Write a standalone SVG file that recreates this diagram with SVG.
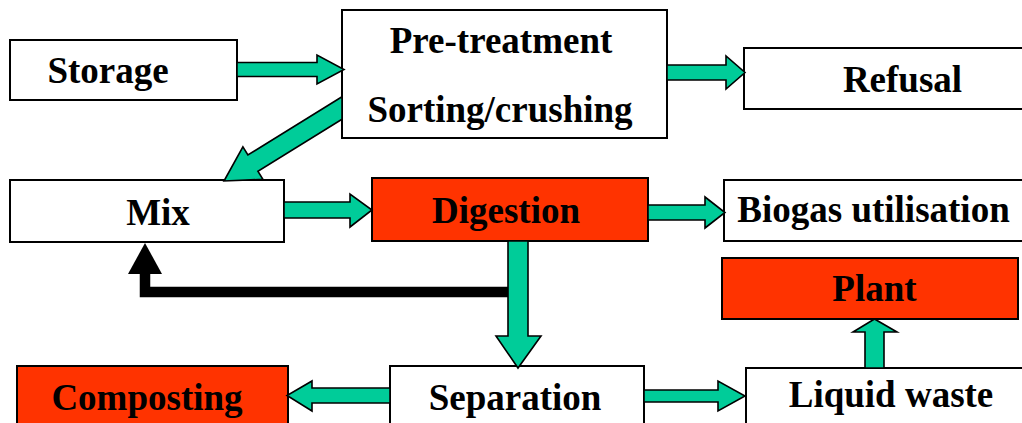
<svg xmlns="http://www.w3.org/2000/svg" width="1022" height="423" viewBox="0 0 1022 423">
<style>
.box{fill:#ffffff;stroke:#000;stroke-width:2}
.red{fill:#ff3300;stroke:#000;stroke-width:2}
.lbl{font-family:"Liberation Serif","Times New Roman",serif;font-weight:bold;font-size:37px;fill:#000;text-anchor:middle}
.arr{fill:#00cc99;stroke:#000;stroke-width:1.6;stroke-linejoin:miter}
</style>
<rect width="1022" height="423" fill="#ffffff"/>
<g id="storage"><rect class="box" x="10" y="40" width="227" height="60"/><text class="lbl" x="108" y="83">Storage</text></g>
<g id="pretreatment"><rect class="box" x="342" y="10" width="325" height="128"/><text class="lbl" x="501" y="53">Pre-treatment</text><text class="lbl" x="500" y="122">Sorting/crushing</text></g>
<g id="refusal"><rect class="box" x="744" y="48" width="300" height="61"/><text class="lbl" x="902.5" y="92">Refusal</text></g>
<g id="mix"><rect class="box" x="10" y="180" width="274" height="62"/><text class="lbl" x="158" y="225">Mix</text></g>
<g id="digestion"><rect class="red" x="372" y="178" width="276" height="63"/><text class="lbl" x="506" y="223">Digestion</text></g>
<g id="biogas"><rect class="box" x="724" y="180" width="310" height="61"/><text class="lbl" x="873.5" y="222">Biogas utilisation</text></g>
<g id="plant"><rect class="red" x="722" y="258" width="296" height="61"/><text class="lbl" x="874.5" y="301">Plant</text></g>
<g id="composting"><rect class="red" x="17" y="366" width="271" height="70"/><text class="lbl" x="147" y="410">Composting</text></g>
<g id="separation"><rect class="box" x="390" y="366" width="254" height="70"/><text class="lbl" x="515" y="410">Separation</text></g>
<g id="liquid"><rect class="box" x="746" y="368" width="300" height="70"/><text class="lbl" x="891" y="407">Liquid waste</text></g>
<g id="connectors">
<path d="M518 292 H145 V270" fill="none" stroke="#000" stroke-width="10.5"/>
<polygon points="128,274 162,274 145,243" fill="#000"/>
<polygon class="arr" points="237,62.5 317,62.5 317,55 344,69.5 317,84 317,76.5 237,76.5"/>
<polygon class="arr" points="667,65 726,65 726,56 745,72.5 726,89 726,80 667,80"/>
<polygon class="arr" points="342,96.8 247.9,155 242.9,146.9 224,181 262.9,179.3 257.9,171.2 342,119.2"/>
<polygon class="arr" points="284,202 350,202 350,194 372,210 350,227 350,218 284,218"/>
<polygon class="arr" points="648,205 705,205 705,197 725,212.5 705,228 705,220 648,220"/>
<polygon class="arr" points="508,241 528,241 528,336 541,336 518,368 496,336 508,336"/>
<polygon class="arr" points="390,388 312,388 312,381 287,395.5 312,411 312,403 390,403"/>
<polygon class="arr" points="644,390 718,390 718,381 745,396 718,411 718,402 644,402"/>
<polygon class="arr" points="865,368 865,332 853,332 874.5,319 897,332 884,332 884,368"/>
</g>
</svg>
